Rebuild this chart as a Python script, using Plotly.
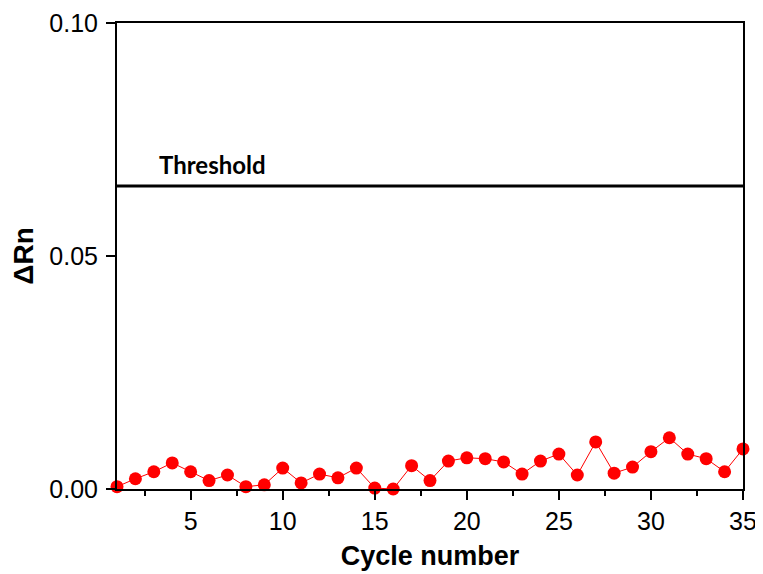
import plotly.graph_objects as go

cycles = list(range(1, 36))
delta_rn = [0.0005, 0.0022, 0.0037, 0.0056, 0.0037, 0.0018, 0.0030, 0.0005, 0.0009, 0.0045,
            0.0013, 0.0032, 0.0024, 0.0045, 0.0002, 0.0000, 0.0050, 0.0018, 0.0060, 0.0067,
            0.0065, 0.0058, 0.0032, 0.0060, 0.0075, 0.0030, 0.0101, 0.0034, 0.0047, 0.0080,
            0.0110, 0.0075, 0.0065, 0.0037, 0.0086]
threshold = 0.065
x_ticks = [5, 10, 15, 20, 25, 30, 35]
y_ticks = [0.0, 0.05, 0.10]
y_tick_labels = ["0.00", "0.05", "0.10"]

fig = go.Figure()
fig.add_trace(go.Scatter(
    x=cycles, y=delta_rn, mode="lines+markers",
    line=dict(color="#ff0000", width=1),
    marker=dict(color="#ff0000", size=13),
    cliponaxis=False, showlegend=False))
fig.add_shape(type="line", xref="x", yref="y", x0=1, x1=35, y0=threshold, y1=threshold,
              line=dict(color="black", width=3))
fig.add_annotation(x=6.2, y=threshold, xref="x", yref="y", text="<b>Threshold</b>",
                   showarrow=False, xanchor="center", yanchor="bottom", yshift=5,
                   font=dict(family="Lato", size=24, color="black"))

# the page body adds an 8px offset, so the figure is sized to fit the window
fig.update_layout(
    width=755, height=566,
    margin=dict(l=109, r=20, t=15, b=85),
    plot_bgcolor="white", paper_bgcolor="white",
    font=dict(family="Liberation Sans", color="black"),
)
fig.update_xaxes(
    range=[1, 35], tickvals=x_ticks, ticks="outside", ticklen=9, tickwidth=2,
    tickcolor="black", showline=True, linecolor="black", linewidth=2, mirror=True,
    showgrid=False, zeroline=False, automargin=False,
    tickfont=dict(family="Liberation Sans", size=25),
    minor=dict(tickvals=[2.5, 7.5, 12.5, 17.5, 22.5, 27.5, 32.5], ticks="outside",
               ticklen=5, tickwidth=2, tickcolor="black"),
    title=dict(text="<b>Cycle number</b>", font=dict(family="Liberation Sans", size=27), standoff=12),
)
fig.update_yaxes(
    range=[0, 0.10], tickvals=y_ticks, ticktext=y_tick_labels, ticks="outside", ticklen=9,
    tickwidth=2, tickcolor="black", showline=True, linecolor="black", linewidth=2,
    mirror=True, showgrid=False, zeroline=False, automargin=False,
    tickfont=dict(family="Liberation Sans", size=25), ticklabelstandoff=3,
    title=dict(text="<b>ΔRn</b>", font=dict(family="Liberation Sans", size=28), standoff=10),
)
fig.write_html("out.html")
